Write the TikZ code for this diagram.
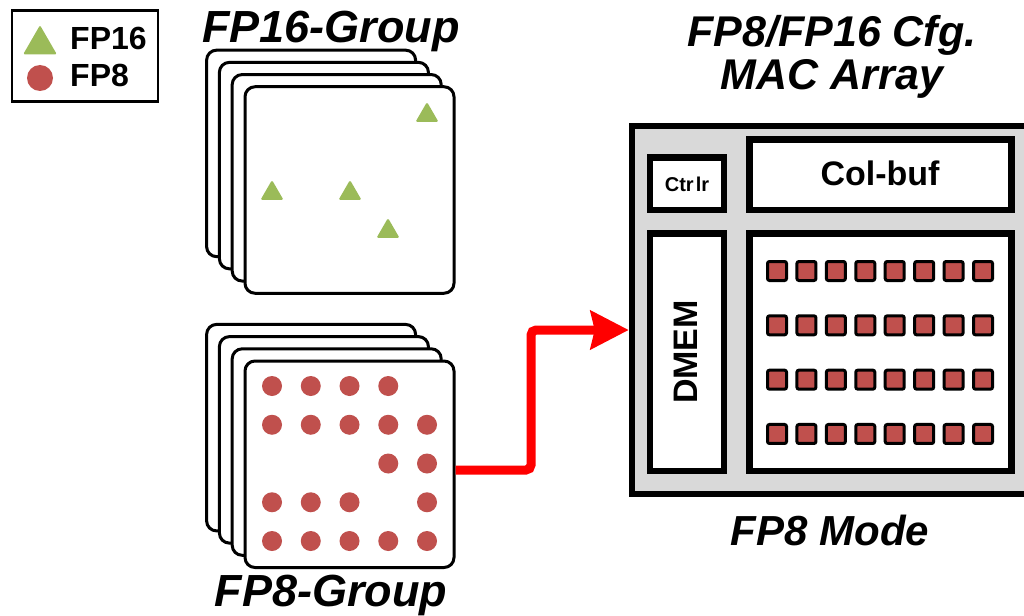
\documentclass[tikz,border=0pt]{standalone}
\usepackage{fontspec}
\setmainfont{Liberation Sans}
\usetikzlibrary{arrows.meta,shapes.geometric}
\definecolor{fpgreen}{HTML}{9BBB59}
\definecolor{fpred}{HTML}{C0504D}
\definecolor{chipgray}{HTML}{D9D9D9}
\begin{document}
\begin{tikzpicture}[x=1pt,y=-1pt,
  card/.style={draw=black, line width=3pt, fill=white, rounded corners=10pt,
    minimum width=209pt, minimum height=206.5pt, inner sep=0pt},
  fptri/.style={regular polygon, regular polygon sides=3, fill=fpgreen,
    inner sep=0pt, minimum size=26.6pt, rounded corners=1.5pt},
  fpdot/.style={circle, fill=fpred, inner sep=0pt, minimum size=20pt},
  blk/.style={draw=black, line width=6.5pt, fill=white, inner sep=0pt},
  pe/.style={draw=black, line width=3pt, fill=fpred, minimum size=19pt,
    inner sep=0pt, rounded corners=2pt},
  ttl/.style={font=\fontsize{45}{49}\selectfont\bfseries\itshape,
    inner sep=0pt, anchor=base},
  lbl/.style={font=\fontsize{32}{36}\selectfont\bfseries, inner sep=0pt,
    anchor=base west},
  redarrow/.style={draw=red, line width=9pt, rounded corners=5pt,
    -{Stealth[length=38pt,width=38pt,inset=4pt]}}
]
\useasboundingbox (0,0) rectangle (1024,615);

% legend
\node[draw=black, line width=2.5pt, minimum width=146pt, minimum height=91pt,
  inner sep=0pt] (legend) at (85,56) {};
\node[fptri, minimum size=39pt] (leg-tri) at (40,44.7) {};
\node[fpdot, minimum size=26pt] (leg-dot) at (40,78) {};
\node[lbl] (leg-fp16) at (70,50) {FP16};
\node[lbl] (leg-fp8) at (70,87) {FP8};

% FP16 group: stacked cards
\node[ttl] (t16) at (331,43) {FP16-Group};
\foreach \k in {3,2,1} {
  \node[card] (f16-\k) at ({349.5-\k*12.8},{190-\k*12.2}) {};
}
\node[card] (f16) at (349.5,190) {};
\node[fptri] (tri1) at (427,115.3) {};
\node[fptri] (tri2) at (272,193.3) {};
\node[fptri] (tri3) at (350,193.3) {};
\node[fptri] (tri4) at (388,231.3) {};

% FP8 group: stacked cards
\foreach \k in {3,2,1} {
  \node[card] (f8-\k) at ({349.5-\k*12.8},{464.25-\k*12.2}) {};
}
\node[card] (f8) at (349.5,464.25) {};
\foreach \c/\r in {1/1,2/1,3/1,4/1,
                   1/2,2/2,3/2,4/2,5/2,
                   4/3,5/3,
                   1/4,2/4,3/4,5/4,
                   1/5,2/5,3/5,4/5,5/5} {
  \node[fpdot] (dot-\r-\c) at ({272+(\c-1)*38.75},{386+(\r-1)*38.75}) {};
}
\node[ttl] (t8) at (331,606) {FP8-Group};

% MAC array
\node[font=\fontsize{43}{47}\selectfont\bfseries\itshape, inner sep=0pt,
  anchor=base] (mtitle1) at (832,47) {FP8/FP16 Cfg.};
\node[font=\fontsize{43}{47}\selectfont\bfseries\itshape, inner sep=0pt,
  anchor=base] (mtitle2) at (832,90) {MAC Array};
\node[draw=black, line width=6.5pt, fill=chipgray, inner sep=0pt,
  minimum width=398pt, minimum height=368pt] (mac) at (831,310) {};
\node[blk, minimum width=74pt, minimum height=52.5pt] (ctrl) at (687,183.75) {};
\node[font=\fontsize{20}{22}\selectfont\bfseries, inner sep=0pt, anchor=base]
  (ctrl-t) at (687,191) {Ctr\kern2pt lr};
\node[blk, minimum width=262pt, minimum height=70.5pt] (colbuf) at (880.5,174.75) {};
\node[font=\fontsize{34}{38}\selectfont\bfseries, inner sep=0pt, anchor=base]
  (colbuf-t) at (880,185) {Col-buf};
\node[blk, minimum width=74pt, minimum height=237.5pt] (dmem) at (687,352.25) {};
\node[font=\fontsize{34}{38}\selectfont\bfseries, inner sep=0pt, rotate=90]
  (dmem-t) at (685.5,352) {DMEM};
\node[blk, minimum width=262pt, minimum height=237.5pt] (pearr) at (880.5,352.25) {};
\foreach \r in {0,...,3} {
  \foreach \c in {0,...,7} {
    \node[pe] (pe-\r-\c) at ({777+\c*29.43},{271+\r*54.33}) {};
  }
}
\node[font=\fontsize{42}{46}\selectfont\bfseries\itshape, inner sep=0pt,
  anchor=base] (mode) at (830,545) {FP8 Mode};

% data path from the FP8 group into the array
\coordinate (bend) at (531,330);
\draw[redarrow] (f8.east |- 0,470) -| (bend) -- (mac.west |- bend);
\end{tikzpicture}
\end{document}
